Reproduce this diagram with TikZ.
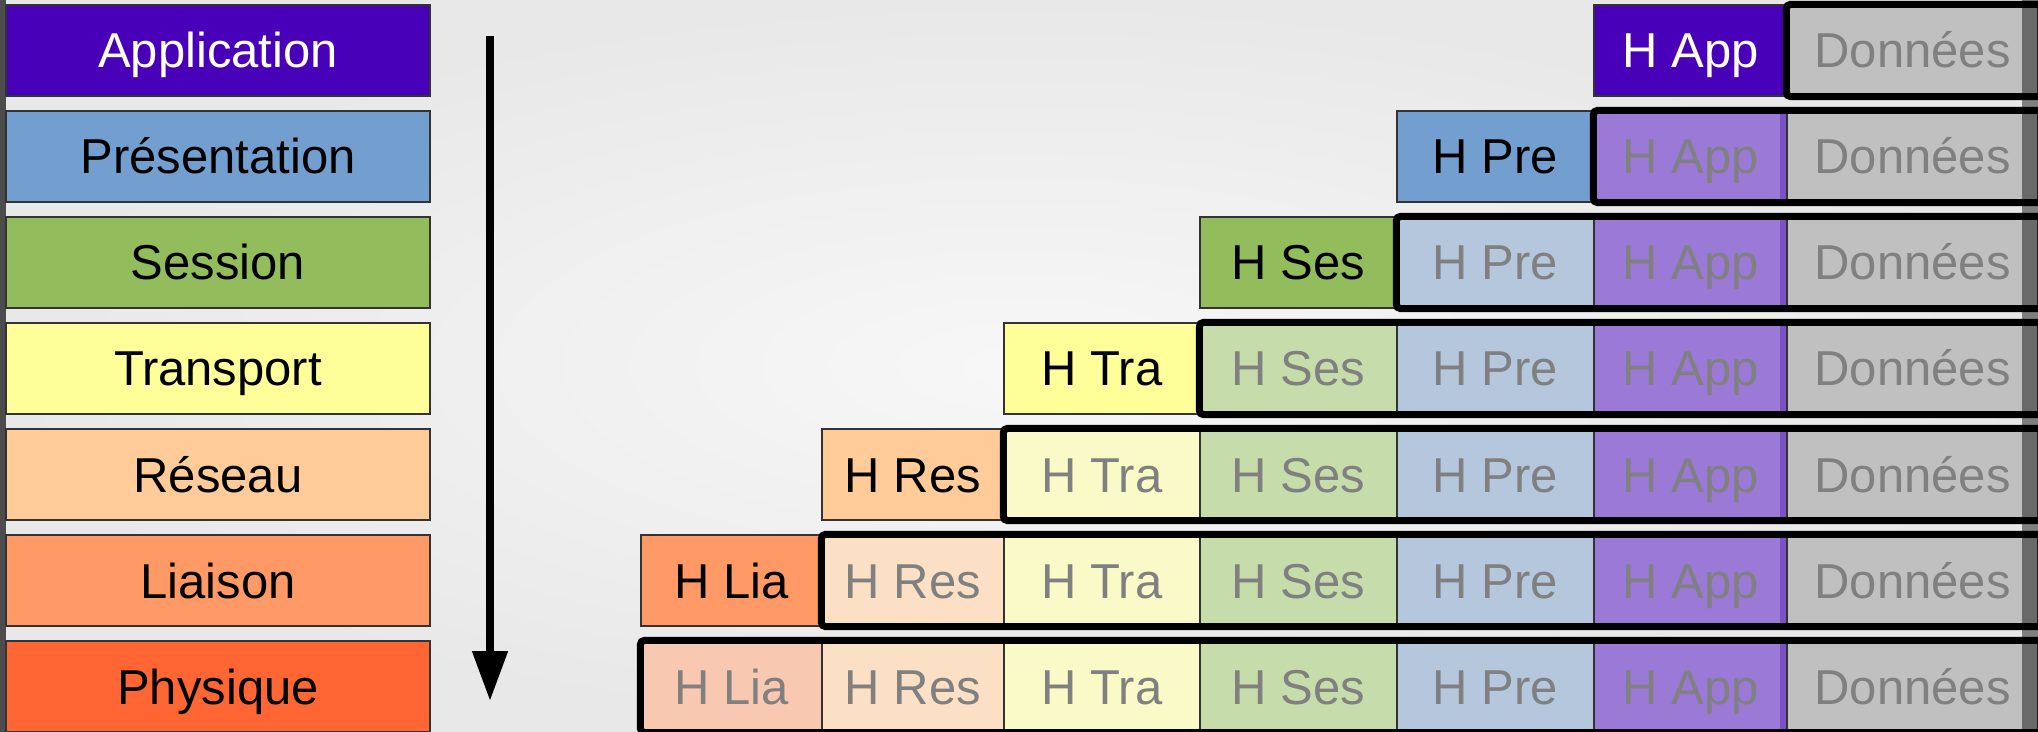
\documentclass[tikz,border=0pt]{standalone}
\usepackage{fontspec}
\setmainfont{Liberation Sans}
\usetikzlibrary{arrows.meta}

\definecolor{appcol}{HTML}{4800B8}
\definecolor{precol}{HTML}{729FCF}
\definecolor{sescol}{HTML}{93BD5D}
\definecolor{tracol}{HTML}{FFFF99}
\definecolor{rescol}{HTML}{FFCC99}
\definecolor{liacol}{HTML}{FF9966}
\definecolor{phycol}{HTML}{FF6633}
\definecolor{appfade}{HTML}{9B79D6}
\definecolor{appedge}{HTML}{7A52C4}
\definecolor{prefade}{HTML}{B4C7DC}
\definecolor{sesfade}{HTML}{C6DCAB}
\definecolor{trafade}{HTML}{FAFAC8}
\definecolor{resfade}{HTML}{FBE0C6}
\definecolor{liafade}{HTML}{F8C8B0}
\definecolor{doncol}{HTML}{C0C0C0}
\definecolor{fadetext}{HTML}{808080}

\tikzset{
  layer/.style={draw=black!80, line width=0.6pt, minimum width=212pt,
    minimum height=45.5pt, inner sep=0pt, text height=17.5pt, text depth=0pt,
    font=\fontsize{24.5}{28}\selectfont},
  hdr/.style={layer, minimum width=#1},
  old/.style={hdr=#1, text=fadetext},
  appold/.style={old=96.5pt, fill=appfade,
    path picture={\fill[appedge] ([xshift=-3.5pt]path picture bounding box.north east)
      rectangle (path picture bounding box.south east);}},
  don/.style={old=125.5pt, fill=doncol},
  wrap/.style={line width=3.5pt, rounded corners=2pt},
}

\begin{document}
\begin{tikzpicture}[x=0.5pt,y=-0.5pt]
  \useasboundingbox (0,0) rectangle (2038,732);
  \clip (0,0) rectangle (2038,732);
  \shade[inner color=white!97!black, outer color=white!91!black] (0,0) rectangle (2038,732);
  \fill[black!70] (0,0) rectangle (6,732);

  % couches
  \node[layer, fill=appcol, text=white] (app) at (218,50.5) {Application};
  \node[layer, fill=precol] (pre) at (218,156.5) {Présentation};
  \node[layer, fill=sescol] (ses) at (218,262.5) {Session};
  \node[layer, fill=tracol] (tra) at (218,368.5) {Transport};
  \node[layer, fill=rescol] (res) at (218,474.5) {Réseau};
  \node[layer, fill=liacol] (lia) at (218,580.5) {Liaison};
  \node[layer, fill=phycol] (phy) at (218,686.5) {Physique};

  \coordinate (haut) at (490,36);
  \coordinate (bas) at (490,701);
  \draw[line width=4pt, -{Triangle[length=25pt, width=17pt]}] (haut) -- (bas);

  % encapsulation
  \node[hdr=96.5pt, fill=appcol, text=white] (happ1) at (1690.5,50.5) {H App};
  \node[don] (don1) at (1912.5,50.5) {Données};

  \node[hdr=98.5pt, fill=precol] (hpre2) at (1495.5,156.5) {H Pre};
  \node[appold] (happ2) at (1690.5,156.5) {H App};
  \node[don] (don2) at (1912.5,156.5) {Données};

  \node[hdr=98.5pt, fill=sescol] (hses3) at (1298.5,262.5) {H Ses};
  \node[old=98.5pt, fill=prefade] (hpre3) at (1495.5,262.5) {H Pre};
  \node[appold] (happ3) at (1690.5,262.5) {H App};
  \node[don] (don3) at (1912.5,262.5) {Données};

  \node[hdr=98pt, fill=tracol] (htra4) at (1102,368.5) {H Tra};
  \node[old=98.5pt, fill=sesfade] (hses4) at (1298.5,368.5) {H Ses};
  \node[old=98.5pt, fill=prefade] (hpre4) at (1495.5,368.5) {H Pre};
  \node[appold] (happ4) at (1690.5,368.5) {H App};
  \node[don] (don4) at (1912.5,368.5) {Données};

  \node[hdr=91pt, fill=rescol] (hres5) at (913,474.5) {H Res};
  \node[old=98pt, fill=trafade] (htra5) at (1102,474.5) {H Tra};
  \node[old=98.5pt, fill=sesfade] (hses5) at (1298.5,474.5) {H Ses};
  \node[old=98.5pt, fill=prefade] (hpre5) at (1495.5,474.5) {H Pre};
  \node[appold] (happ5) at (1690.5,474.5) {H App};
  \node[don] (don5) at (1912.5,474.5) {Données};

  \node[hdr=90.5pt, fill=liacol] (hlia6) at (731.5,580.5) {H Lia};
  \node[old=91pt, fill=resfade] (hres6) at (913,580.5) {H Res};
  \node[old=98pt, fill=trafade] (htra6) at (1102,580.5) {H Tra};
  \node[old=98.5pt, fill=sesfade] (hses6) at (1298.5,580.5) {H Ses};
  \node[old=98.5pt, fill=prefade] (hpre6) at (1495.5,580.5) {H Pre};
  \node[appold] (happ6) at (1690.5,580.5) {H App};
  \node[don] (don6) at (1912.5,580.5) {Données};

  \node[old=90.5pt, fill=liafade] (hlia7) at (731.5,686.5) {H Lia};
  \node[old=91pt, fill=resfade] (hres7) at (913,686.5) {H Res};
  \node[old=98pt, fill=trafade] (htra7) at (1102,686.5) {H Tra};
  \node[old=98.5pt, fill=sesfade] (hses7) at (1298.5,686.5) {H Ses};
  \node[old=98.5pt, fill=prefade] (hpre7) at (1495.5,686.5) {H Pre};
  \node[appold] (happ7) at (1690.5,686.5) {H App};
  \node[don] (don7) at (1912.5,686.5) {Données};

  \draw[wrap] (don1.north west) rectangle ([xshift=10pt]don1.south east);
  \draw[wrap] (happ2.north west) rectangle ([xshift=10pt]don2.south east);
  \draw[wrap] (hpre3.north west) rectangle ([xshift=10pt]don3.south east);
  \draw[wrap] (hses4.north west) rectangle ([xshift=10pt]don4.south east);
  \draw[wrap] (htra5.north west) rectangle ([xshift=10pt]don5.south east);
  \draw[wrap] (hres6.north west) rectangle ([xshift=10pt]don6.south east);
  \draw[wrap] (hlia7.north west) rectangle ([xshift=10pt]don7.south east);

  \fill[black, opacity=0.45] (2022,0) rectangle (2038,732);
\end{tikzpicture}
\end{document}
